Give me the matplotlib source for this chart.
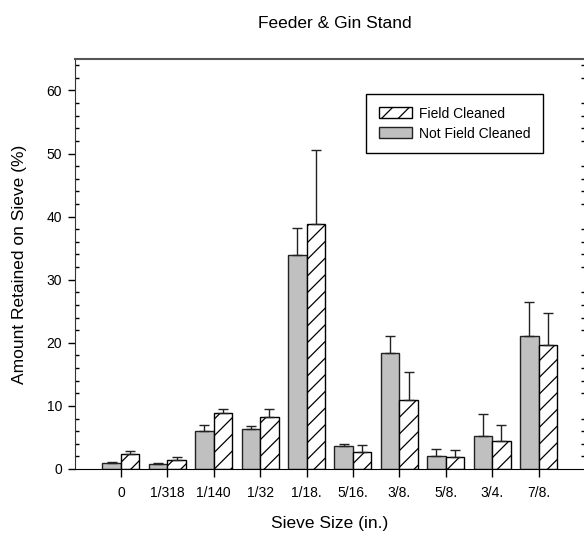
import numpy as np
from matplotlib import pyplot as plt
from matplotlib.ticker import MultipleLocator

plt.rcParams['font.family'] = ['Liberation Sans', 'DejaVu Sans']
plt.rcParams['hatch.linewidth'] = 0.9

# sieve sizes (in.)
sizes = ['0', '1/318', '1/140', '1/32', '1/18.', '5/16.', '3/8.', '5/8.', '3/4.', '7/8.']

# amount retained on sieve (%) and upper error
not_cleaned = [0.9, 0.8, 6.1, 6.3, 33.9, 3.6, 18.4, 2.1, 5.3, 21.1]
not_cleaned_err = [0.25, 0.2, 0.9, 0.55, 4.3, 0.3, 2.7, 1.1, 3.4, 5.4]
field_cleaned = [2.3, 1.5, 8.9, 8.3, 38.9, 2.7, 11.0, 1.85, 4.4, 19.6]
field_cleaned_err = [0.55, 0.4, 0.6, 1.25, 11.7, 1.1, 4.4, 1.2, 2.55, 5.1]

x = np.arange(len(sizes))
w = 0.4

fig = plt.figure(figsize=(5.84, 5.41), dpi=100)
ax = fig.add_axes([0.1276, 0.1331, 0.874, 0.758])

ekw = dict(ecolor='#222222', elinewidth=1, capsize=3.6, capthick=1)
ax.bar(x - w / 2, not_cleaned, w, color='#c0c0c0', edgecolor='#222222', linewidth=1,
       yerr=[np.zeros(len(x)), not_cleaned_err], error_kw=ekw, label='Not Field Cleaned')
ax.bar(x + w / 2, field_cleaned, w, color='white', edgecolor='black', linewidth=1,
       hatch='//', yerr=[np.zeros(len(x)), field_cleaned_err], error_kw=ekw,
       label='Field Cleaned')

ax.set_xlim(-1, 10)
ax.set_ylim(0, 65)
ax.set_xticks(x)
ax.set_xticklabels(sizes)
ax.yaxis.set_major_locator(MultipleLocator(10))
ax.yaxis.set_minor_locator(MultipleLocator(2))
ax.tick_params(axis='x', direction='out', length=6, width=1, labelsize=10, pad=6)
ax.tick_params(axis='y', which='major', direction='out', length=5, width=1, labelsize=10, pad=4)
ax.tick_params(axis='y', which='minor', direction='in', length=3, width=1, right=True)

ax.spines['top'].set_color('#555555')
ax.spines['top'].set_linewidth(1.5)
ax.spines['left'].set_color('#333333')
ax.spines['right'].set_visible(False)

ax.set_xlabel('Sieve Size (in.)', fontsize=12.5, labelpad=12)
ax.set_ylabel('Amount Retained on Sieve (%)', fontsize=12.5, labelpad=14)
fig.text(335 / 584, 1 - 23 / 541, 'Feeder & Gin Stand', fontsize=12.5, ha='center', va='center')

h, l = ax.get_legend_handles_labels()
leg = ax.legend(h[::-1], l[::-1], loc='upper right', bbox_to_anchor=(543 / 584, 1 - 94 / 541),
                bbox_transform=fig.transFigure, borderaxespad=0, fontsize=10,
                fancybox=False, framealpha=1, edgecolor='black', handlelength=2.4,
                handleheight=0.85, labelspacing=0.45, handletextpad=0.5, borderpad=0.9)
leg.get_frame().set_linewidth(1)

plt.savefig('out.png', dpi=100)
